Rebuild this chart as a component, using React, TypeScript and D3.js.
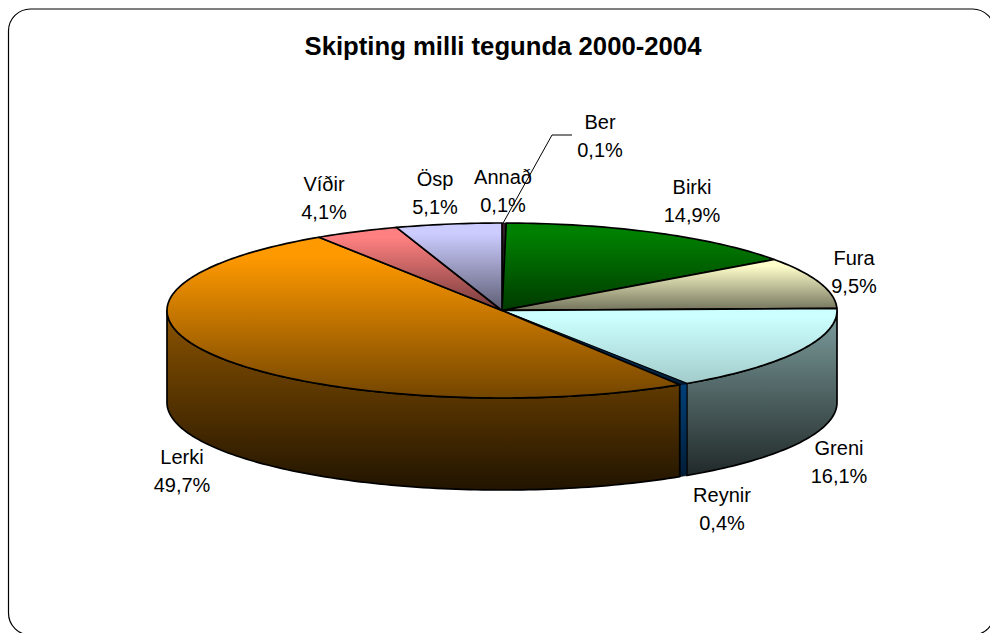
import React from "react";
import * as d3 from "d3";

const title = "Skipting milli tegunda 2000-2004";
const categories = ["Annað", "Ber", "Birki", "Fura", "Greni", "Reynir", "Lerki", "Víðir", "Ösp"];
const shares = [0.1, 0.1, 14.9, 9.5, 16.1, 0.4, 49.7, 4.1, 5.1];
const colors = ["#993366", "#333333", "#008000", "#ffffcc", "#ccffff", "#00407a", "#ff9900", "#ff8080", "#ccccff"];
const labelAnchors: [number, number][] = [
  [503, 177], [600, 122], [692, 187], [854, 258], [839, 448], [722, 495], [182, 457], [324, 184], [435, 179],
];

const CX = 502, CY = 310.5, RX = 335, RY = 87.5, DEPTH = 92;
const SLIVER = 1; // shares at or below this get a thinner outline

const pieGen = d3.pie<number>().sort(null).startAngle(0).endAngle(2 * Math.PI);
const arcs = pieGen(shares);
const px = (a: number) => CX + RX * Math.sin(a);
const py = (a: number) => CY - RY * Math.cos(a);
const samples = (a0: number, a1: number) => {
  const n = Math.max(2, Math.ceil((a1 - a0) / 0.02));
  return d3.range(n + 1).map((i) => a0 + ((a1 - a0) * i) / n);
};
const topPath = (a0: number, a1: number) =>
  d3.line()([[CX, CY], ...samples(a0, a1).map((a) => [px(a), py(a)] as [number, number])]) + "Z";
const wallGen = d3.area<number>().x(px).y0(py).y1((a) => py(a) + DEPTH);
const fmt = (v: number) => v.toFixed(1).replace(".", ",") + "%";
const mix = (c: string, t: number) => d3.interpolateRgb(c, "#000")(t);
const stroke = (i: number) => (shares[i] <= SLIVER ? 0.6 : 1.7);

export default function App() {
  const font = "'Liberation Sans', Arial, sans-serif";
  return (
    <svg width={990} height={633} style={{ position: "absolute", left: 0, top: 0 }} fontFamily={font}>
      <defs>
        {colors.map((c, i) => (
          <React.Fragment key={i}>
            <linearGradient id={`top${i}`} x1="0" y1="0" x2="0" y2="1">
              <stop offset="0" stopColor={c} />
              <stop offset="0.12" stopColor={c} />
              <stop offset="1" stopColor={mix(c, i === 4 ? 0.2 : 0.55)} />
            </linearGradient>
            <linearGradient id={`wall${i}`} x1="0" y1="0" x2="0" y2="1">
              <stop offset="0" stopColor={mix(c, i === 5 ? 0 : i === 4 ? 0.38 : 0.45)} />
              <stop offset="1" stopColor={mix(c, i === 5 ? 0.55 : i === 4 ? 0.84 : 0.87)} />
            </linearGradient>
          </React.Fragment>
        ))}
      </defs>
      <rect x={8.5} y={9} width={986} height={626} rx={22} ry={22} fill="#fff" stroke="#000" strokeWidth={1.2} />
      <text x={503} y={55} textAnchor="middle" fontSize={25.7} fontWeight="bold" fill="#000">{title}</text>

      {arcs.map((d, i) => {
        const a0 = Math.max(d.startAngle, Math.PI / 2);
        const a1 = Math.min(d.endAngle, (3 * Math.PI) / 2);
        if (a1 <= a0) return null;
        return (
          <path key={i} d={wallGen(samples(a0, a1)) ?? ""} fill={`url(#wall${i})`} stroke="#000" strokeWidth={stroke(i)} strokeLinejoin="round" />
        );
      })}
      {arcs.map((d, i) => (
        <path key={i} d={topPath(d.startAngle, d.endAngle)} fill={`url(#top${i})`} stroke="#000" strokeWidth={stroke(i)} strokeLinejoin="round" />
      ))}

      <polyline points="502,225 552,135 572,135" fill="none" stroke="#000" strokeWidth={1} />

      {categories.map((c, i) => (
        <text key={c} x={labelAnchors[i][0]} textAnchor="middle" fontSize={20} fill="#000">
          <tspan x={labelAnchors[i][0]} y={labelAnchors[i][1] + 7}>{c}</tspan>
          <tspan x={labelAnchors[i][0]} y={labelAnchors[i][1] + 35}>{fmt(shares[i])}</tspan>
        </text>
      ))}
    </svg>
  );
}
